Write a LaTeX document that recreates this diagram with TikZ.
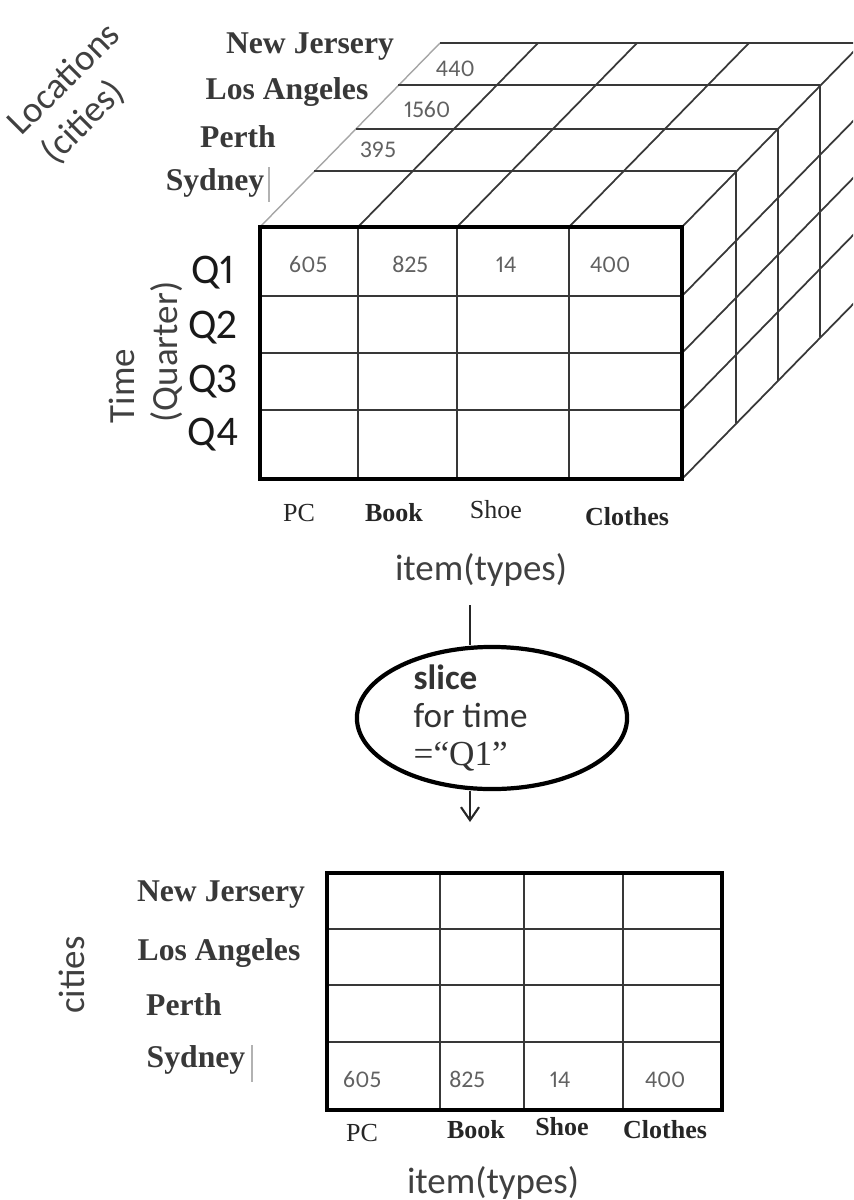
\documentclass[tikz,border=0pt]{standalone}
\usepackage{fontspec}
\setmainfont{Liberation Serif}
\setsansfont{Carlito}[Numbers={Lining,Proportional}]
\usetikzlibrary{arrows.meta, shapes, positioning}

\definecolor{txtgray}{gray}{0.22}
\definecolor{numgray}{gray}{0.38}
\definecolor{linegray}{gray}{0.22}

\begin{document}
\begin{tikzpicture}[x=0.01cm, y=-0.01cm, >={Straight Barb[length=1.3mm, width=1.8mm]},
    grid/.style={draw=linegray, line width=0.5pt},
    frame/.style={draw=black, line width=1.3pt},
    city/.style={font=\fontsize{9}{10}\selectfont\bfseries, text=txtgray, inner sep=0pt},
    item/.style={font=\fontsize{7.4}{8}\selectfont, text=black!85, inner sep=0pt},
    num/.style={font=\sffamily\fontsize{6.8}{8}\selectfont, text=numgray, inner sep=0pt, anchor=base},
    axis/.style={font=\sffamily\fontsize{10.5}{12}\selectfont, text=black!75, inner sep=0pt},
    qtr/.style={font=\sffamily\fontsize{12}{14}\selectfont, text=black!90, inner sep=0pt}]

    \useasboundingbox (0,0) rectangle (853,1200);
    \clip (0,0) rectangle (853,1200);

    % cube: top face
    \draw[gray!70, line width=0.4pt] (260,227) -- (440,43);
    \foreach \dx/\dy in {54/-56, 96/-98, 138/-142, 180/-184}
        \draw[grid] (260+\dx,227+\dy) -- (682+\dx,227+\dy);
    \foreach \x in {358,457,569,682}
        \draw[grid] (\x,227) -- ++(180,-184);

    % cube: right face
    \foreach \y in {296,353,410,479}
        \draw[grid] (682,\y) -- ++(180,-184);
    \foreach \dx/\dy in {54/-56, 96/-98, 138/-142, 180/-184}
        \draw[grid] (682+\dx,227+\dy) -- (682+\dx,479+\dy);

    % cube: front face
    \foreach \x in {358,457,569}
        \draw[grid] (\x,227) -- (\x,479);
    \foreach \y in {296,353,410}
        \draw[grid] (260,\y) -- (682,\y);
    \draw[frame] (260,227) rectangle (682,479);

    \node[num] (v440) at (455,77) {440};
    \node[num] (v1560) at (427,117) {1560};
    \node[num] (v395) at (378,157) {395};

    \node[num] (f605) at (308,272) {605};
    \node[num] (f825) at (410,272) {825};
    \node[num] (f14) at (506,272) {14};
    \node[num] (f400) at (610,272) {400};

    % axis labels of the cube
    \node[axis, rotate=45] (loc) at (63,78) {Locations};
    \node[axis, rotate=45] (loccity) at (83,122) {(cities)};

    \node[city] (nj) at (310,47) {New Jersery};
    \node[city] (la) at (287,92) {Los Angeles};
    \node[city] (pe) at (238,137) {Perth};
    \node[city] (sy) at (215,183) {Sydney};
    \draw[gray!60, line width=0.3pt] (269,167) -- (269,202);

    \node[qtr] (q1) at (213,273) {Q1};
    \node[qtr] (q2) at (213,328) {Q2};
    \node[qtr] (q3) at (213,382) {Q3};
    \node[qtr] (q4) at (213,435) {Q4};
    \node[axis, rotate=90] (time) at (122,386) {Time};
    \node[axis, rotate=90] (quarter) at (167,352) {(Quarter)};

    \node[item] (pc) at (299,513) {PC};
    \node[item, font=\fontsize{7.4}{8}\selectfont\bfseries] (book) at (394,513) {Book};
    \node[item] (shoe) at (496,510) {Shoe};
    \node[item, font=\fontsize{7.4}{8}\selectfont\bfseries] (clothes) at (627,517) {Clothes};
    \node[axis] (items) at (481,570) {item(types)};

    % slice operation
    \coordinate (arrtop) at (470,605);
    \coordinate (arrtip) at (470,822);
    \node[ellipse, draw, line width=1.2pt, minimum width=2.7cm, minimum height=1.42cm, inner sep=0pt] (slice) at (492,718) {};
    \node[anchor=west, align=left, inner sep=0pt, text=black!80,
        font=\sffamily\fontsize{10}{10.8}\selectfont] (slicetxt) at (413,718)
        {\textbf{slice}\\for time\\{\rmfamily =“Q1”}};

    \draw[line width=0.6pt, black!85] (arrtop) -- (arrtop |- slice.north);
    \draw[->, line width=0.6pt, black!85] (arrtop |- slice.south) -- (arrtip);

    % sliced table
    \foreach \x in {440,524,623}
        \draw[grid] (\x,873) -- (\x,1110);
    \foreach \y in {929,985,1042}
        \draw[grid] (327,\y) -- (722,\y);
    \draw[frame] (327,873) rectangle (722,1110);

    \node[num] (s605) at (362,1087) {605};
    \node[num] (s825) at (467,1087) {825};
    \node[num] (s14) at (560,1087) {14};
    \node[num] (s400) at (665,1087) {400};

    \node[city] (nj2) at (221,895) {New Jersery};
    \node[city] (la2) at (219,953) {Los Angeles};
    \node[city] (pe2) at (184,1005) {Perth};
    \node[city] (sy2) at (196,1060) {Sydney};
    \draw[gray!60, line width=0.3pt] (252,1045) -- (252,1082);
    \node[axis, rotate=90] (cities) at (72,975) {cities};

    \node[item] (pc2) at (362,1133) {PC};
    \node[item, font=\fontsize{7.4}{8}\selectfont\bfseries] (book2) at (476,1130) {Book};
    \node[item, font=\fontsize{7.4}{8}\selectfont\bfseries] (shoe2) at (562,1127) {Shoe};
    \node[item, font=\fontsize{7.4}{8}\selectfont\bfseries] (clothes2) at (665,1130) {Clothes};
    \node[axis] (items2) at (493,1183) {item(types)};

\end{tikzpicture}
\end{document}
